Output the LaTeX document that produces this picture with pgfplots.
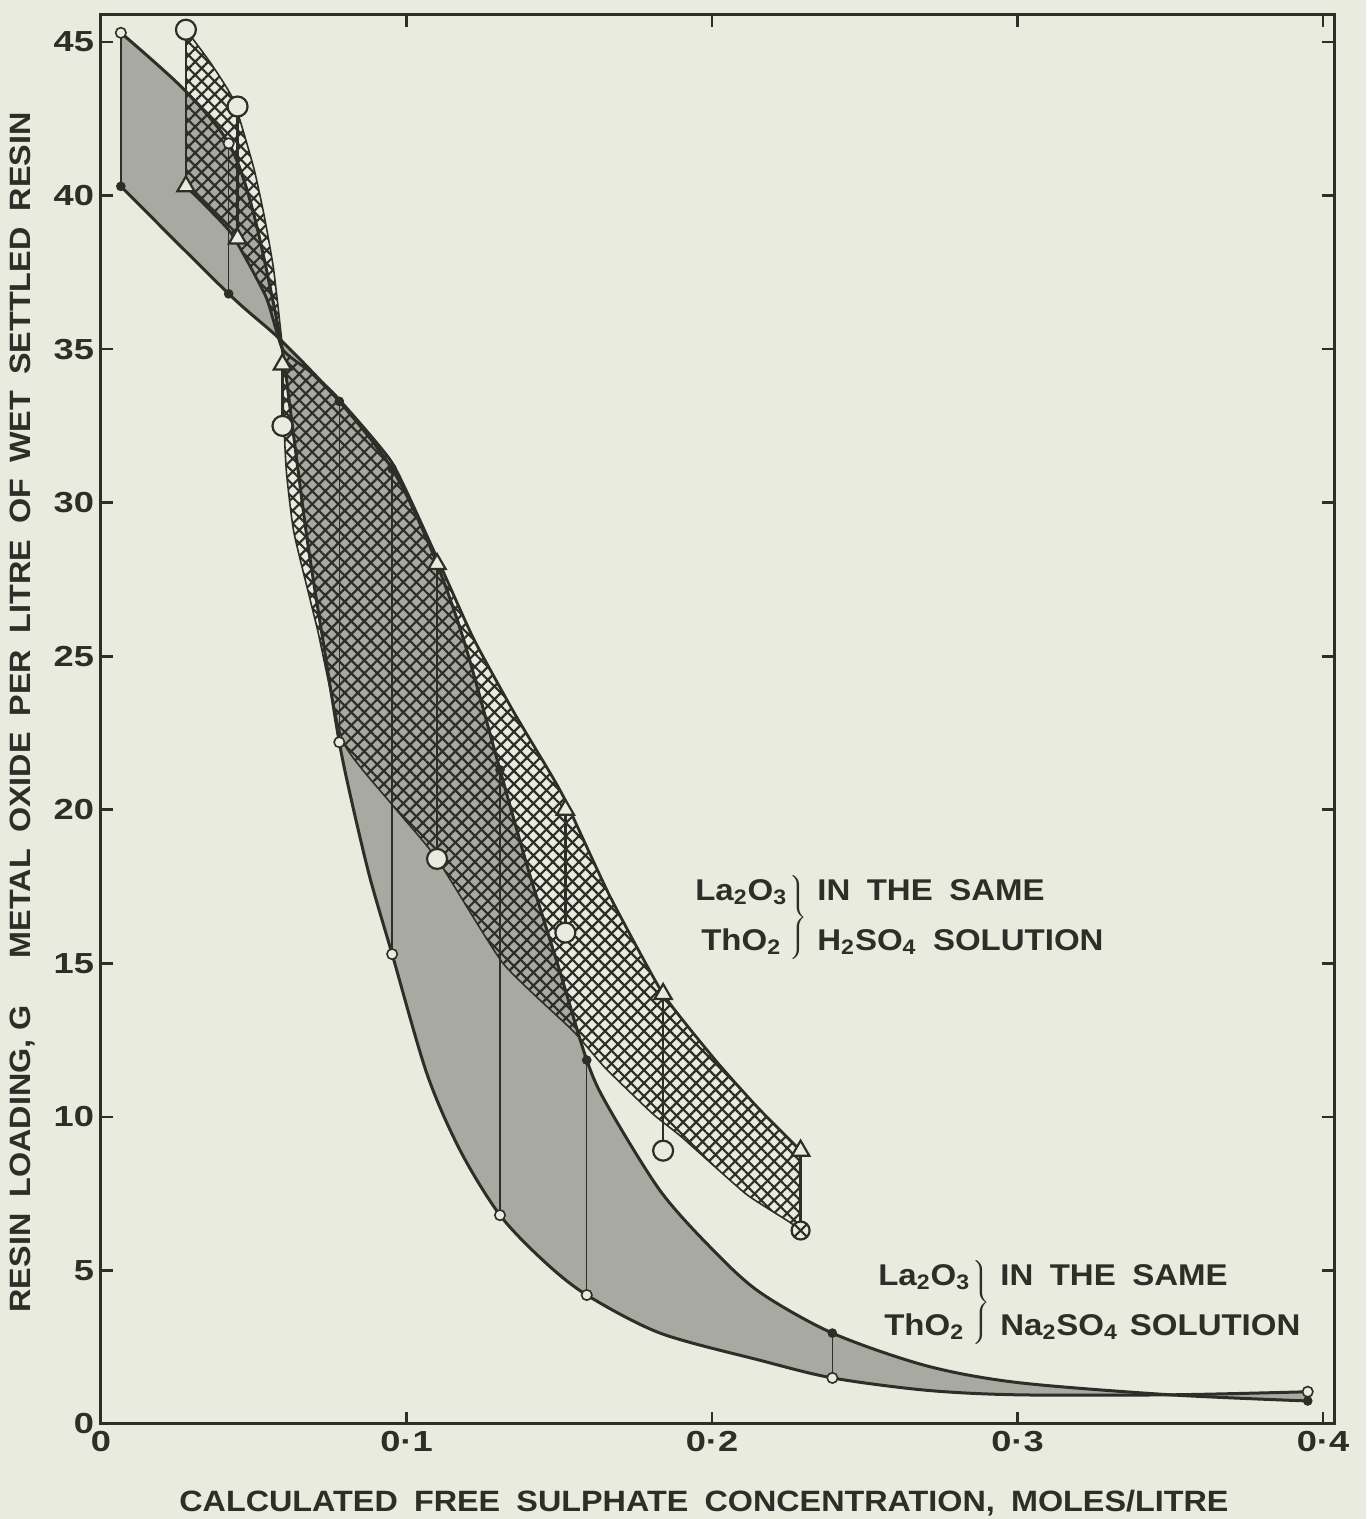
\documentclass[border=0pt]{standalone}
\usepackage{pgfplots}
\pgfplotsset{compat=1.18}
\usepackage{pgfplotstable}
\usepgfplotslibrary{fillbetween}
\usetikzlibrary{patterns.meta}
\usepackage{fontspec}
\setmainfont{Liberation Sans}
\newfontfamily\widefont[FakeStretch=1.1]{Liberation Sans}
\newfontfamily\tickfont[FakeStretch=1.25]{Liberation Sans}

\definecolor{paper}{RGB}{232,235,222}
\definecolor{ink}{RGB}{44,46,40}
\definecolor{stip}{RGB}{168,170,162}
\pagecolor{paper}

% Na2SO4 medium: open-circle oxide and filled-dot oxide
\pgfplotstableread{
x y
0.0065 45.3
0.0267 43.5
0.0418 41.7
0.0500 39.4
0.0588 35.3
0.0620 33.0
0.0675 28.8
0.0730 25.3
0.0780 22.2
0.0820 20.3
0.0880 17.8
0.0953 15.3
0.1067 11.4
0.1176 8.9
0.1306 6.8
0.1450 5.3
0.1590 4.2
0.1830 2.96
0.2155 2.08
0.2394 1.50
0.2700 1.10
0.3000 0.95
0.3500 0.95
0.3950 1.05
}\naA
\pgfplotstableread{
x y
0.0065 40.3
0.0418 36.8
0.0588 35.3
0.0780 33.3
0.0953 31.1
0.1080 28.5
0.1185 25.6
0.1306 21.3
0.1400 18.0
0.1500 14.8
0.1590 11.85
0.1656 10.4
0.1830 7.6
0.2000 5.7
0.2155 4.3
0.2394 2.96
0.2700 1.90
0.3000 1.35
0.3500 0.95
0.3950 0.75
}\naB
% H2SO4 medium: circle oxide and triangle oxide
\pgfplotstableread{
x y
0.0278 45.4
0.0360 44.3
0.0434 43.1
0.0500 40.9
0.0535 39.3
0.0565 37.6
0.0594 35.0
0.0597 33.0
0.0607 31.0
0.0632 29.0
0.0709 25.85
0.0793 22.2
0.0950 20.2
0.1100 18.4
0.1316 15.0
0.1545 12.8
0.1650 11.6
0.1806 10.1
0.1900 9.35
0.2110 7.5
0.2250 6.6
0.2290 6.3
}\hC
\pgfplotstableread{
x y
0.0278 40.3
0.0424 38.8
0.0540 36.7
0.0594 35.0
0.0680 34.3
0.0767 33.5
0.0953 31.3
0.1100 28.2
0.1218 25.6
0.1350 23.2
0.1470 21.2
0.1520 20.3
0.1665 17.2
0.1840 14.0
0.2015 11.8
0.2150 10.3
0.2290 8.9
}\hD

\newcommand\annot[4]{%
  \begin{tabular}{@{}c@{}}#1\\[7pt]#2\end{tabular}%
  $\left.\vphantom{\begin{tabular}{c}X\\[7pt]X\end{tabular}}\right\}$\hspace{5pt}%
  \begin{tabular}{@{}l@{}}#3\\[7pt]#4\end{tabular}}
\newcommand\gap{\hspace{0.55em}}

\begin{document}
\begin{tikzpicture}
\begin{axis}[
  at={(0,0)}, anchor=south west,
  scale only axis, width=616.5pt, height=704.5pt,
  xmin=0, xmax=0.4036, ymin=0, ymax=45.88,
  axis line style={ink, line width=1.5pt},
  tick style={ink, line width=1.3pt},
  major tick length=6pt,
  tick align=inside, tick pos=both,
  xtick={0,0.1,0.2,0.3,0.4},
  xticklabels={0,0·1,0·2,0·3,0·4},
  ytick={0,5,10,15,20,25,30,35,40,45},
  yticklabels={0,5,10,15,20,25,30,35,40,45},
  ticklabel style={font=\tickfont\bfseries\fontsize{14.5}{16}\selectfont, text=ink},
  xlabel={\widefont\bfseries\fontsize{14.7}{17}\selectfont CALCULATED\gap FREE\gap SULPHATE\gap CONCENTRATION,\gap MOLES/LITRE},
  xlabel style={at={(axis description cs:0.489,0)}, anchor=base, yshift=-43.5pt, text=ink},
  ylabel={\widefont\bfseries\fontsize{14.7}{17}\selectfont RESIN\gap LOADING,\ G\hspace{1.6em}METAL\gap OXIDE\gap PER\gap LITRE\gap OF\gap WET\gap SETTLED\gap RESIN},
  ylabel style={at={(axis description cs:-0.0637,0.505)}, anchor=center, text=ink},
]
% boundary curves (named for the fills)
\addplot[name path=NaA, draw=none, smooth] table {\naA};
\addplot[name path=NaB, draw=none, smooth] table {\naB};
\addplot[name path=HC, draw=none, smooth, tension=0.3] table {\hC};
\addplot[name path=HD, draw=none, smooth, tension=0.3] table {\hD};

% Na2SO4 band: stippled grey
\addplot[fill=stip, draw=none] fill between[of=NaA and NaB];
% H2SO4 band: diagonal cross-hatching
\addplot[draw=none, pattern={Lines[angle=45, distance=4.6pt, line width=1.1pt]}, pattern color=ink] fill between[of=HC and HD];
\addplot[draw=none, pattern={Lines[angle=-45, distance=4.6pt, line width=1.1pt]}, pattern color=ink] fill between[of=HC and HD];

% band outlines
\addplot[ink, line width=1.5pt, smooth] table {\naA};
\addplot[ink, line width=1.5pt, smooth] table {\naB};
\addplot[ink, line width=0.8pt, smooth, tension=0.3] table {\hC};
\addplot[ink, line width=1.4pt, smooth, tension=0.3] table {\hD};

% tie lines, Na2SO4
\addplot[ink, line width=0.7pt, unbounded coords=jump] coordinates {
 (0.0065,45.3) (0.0065,40.3) (0.0065,nan)
 (0.0418,41.7) (0.0418,36.8) (0.0418,nan)
 (0.078,33.3) (0.078,22.2) (0.078,nan)
 (0.0953,31.1) (0.0953,15.3) (0.0953,nan)
 (0.1306,21.3) (0.1306,6.8) (0.1306,nan)
 (0.159,11.85) (0.159,4.2) (0.159,nan)
 (0.2394,2.96) (0.2394,1.5) (0.2394,nan)
 (0.395,1.05) (0.395,0.75)
};
% tie lines, H2SO4
\addplot[ink, line width=1.2pt, unbounded coords=jump] coordinates {
 (0.0278,45.4) (0.0278,40.3) (0.0278,nan)
 (0.0447,42.9) (0.0447,38.6) (0.0447,nan)
 (0.0594,34.5) (0.0594,32.5) (0.0594,nan)
 (0.110,28.0) (0.110,18.4) (0.110,nan)
 (0.152,20.0) (0.152,16.0) (0.152,nan)
 (0.184,14.0) (0.184,8.9) (0.184,nan)
 (0.229,8.9) (0.229,6.3)
};

% Na2SO4 points
\addplot[only marks, mark=*, mark size=2.6pt, mark options={fill=paper, draw=ink, line width=0.8pt}] coordinates {
 (0.0065,45.3) (0.0418,41.7) (0.078,22.2) (0.0953,15.3) (0.1306,6.8) (0.159,4.2) (0.2394,1.5) (0.395,1.05)};
\addplot[only marks, mark=*, mark size=2.2pt, mark options={fill=ink, draw=ink}] coordinates {
 (0.0065,40.3) (0.0418,36.8) (0.078,33.3) (0.0953,31.1) (0.1306,21.3) (0.159,11.85) (0.2394,2.96) (0.395,0.75)};
% H2SO4 points
\addplot[only marks, mark=*, mark size=5pt, mark options={fill=paper, draw=ink, line width=1.1pt}] coordinates {
 (0.0278,45.4) (0.0447,42.9) (0.0594,32.5) (0.110,18.4) (0.152,16.0) (0.184,8.9)};
\addplot[only marks, mark=triangle*, mark size=5pt, mark options={fill=paper, draw=ink, line width=1.1pt}] coordinates {
 (0.0278,40.3) (0.0447,38.6) (0.0594,34.5) (0.110,28.0) (0.152,20.0) (0.184,14.0) (0.229,8.9)};
\addplot[only marks, mark=otimes*, mark size=4.5pt, mark options={fill=paper, draw=ink, line width=1.1pt}] coordinates {
 (0.229,6.3)};

% annotations
\node[anchor=west, inner sep=0pt, text=ink, font=\widefont\bfseries\fontsize{15}{18}\selectfont] at (axis cs:0.1944,16.48)
 {\annot{La\textsubscript{2}O\textsubscript{3}}{ThO\textsubscript{2}}{IN\gap THE\gap SAME}{H\textsubscript{2}SO\textsubscript{4}\gap SOLUTION}};
\node[anchor=west, inner sep=0pt, text=ink, font=\widefont\bfseries\fontsize{15}{18}\selectfont] at (axis cs:0.2543,3.94)
 {\annot{La\textsubscript{2}O\textsubscript{3}}{ThO\textsubscript{2}}{IN\gap THE\gap SAME}{Na\textsubscript{2}SO\textsubscript{4}\hspace{0.4em}SOLUTION}};
\end{axis}
\pgfresetboundingbox
\path[use as bounding box] (-50.5pt,-47.5pt) rectangle (632.5pt,712pt);
\end{tikzpicture}
\end{document}
